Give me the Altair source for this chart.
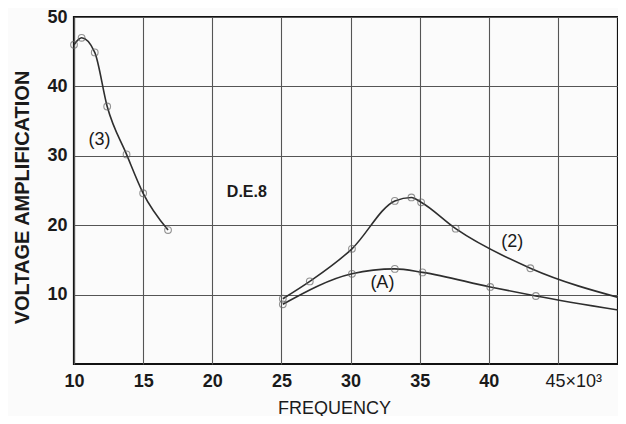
import altair as alt
import pandas as pd

# Curve (3)
c3_x = [10.0, 10.55, 11.5, 12.4, 13.8, 15.0, 16.8]
c3_y = [46.0, 47.0, 44.9, 37.1, 30.2, 24.6, 19.3]
# Curve (2)
c2_x = [25.1, 27.05, 30.1, 33.2, 34.4, 35.1, 37.6, 43.0]
c2_y = [9.4, 11.9, 16.6, 23.5, 24.0, 23.3, 19.5, 13.8]
c2_end_x = [49.9]
c2_end_y = [9.3]
# Curve (A)
ca_x = [25.1, 30.1, 33.2, 35.2, 40.1, 43.4]
ca_y = [8.6, 13.0, 13.7, 13.2, 11.1, 9.8]
ca_end_x = [49.9]
ca_end_y = [7.6]

# Annotations
ann_text = ["(3)", "D.E.8", "(2)", "(A)"]
ann_x = [11.85, 22.5, 41.7, 32.3]
ann_y = [32.3, 24.8, 17.6, 11.7]
ann_weight = ["normal", "bold", "normal", "normal"]

x_ticks = [10, 15, 20, 25, 30, 35, 40, 45]
y_ticks = [10, 20, 30, 40, 50]

rows = []
for s, xs_, ys_ in [("3", c3_x, c3_y), ("2", c2_x + c2_end_x, c2_y + c2_end_y),
                    ("A", ca_x + ca_end_x, ca_y + ca_end_y)]:
    for i, (a, b) in enumerate(zip(xs_, ys_)):
        rows.append({"series": s, "x": a, "y": b, "order": i})
lines_df = pd.DataFrame(rows)

pts = []
for s, xs_, ys_ in [("3", c3_x, c3_y), ("2", c2_x, c2_y), ("A", ca_x, ca_y)]:
    for a, b in zip(xs_, ys_):
        pts.append({"series": s, "x": a, "y": b})
pts_df = pd.DataFrame(pts)

ann_df = pd.DataFrame({"t": ann_text, "x": ann_x, "y": ann_y, "w": ann_weight})

W = 544
H = 347
xmax = 10 + W / (484 / 35)

xs = alt.Scale(domain=[10, xmax], nice=False, zero=False)
ys = alt.Scale(domain=[0, 50], nice=False)

last = "datum.value == 45"
x_axis = alt.Axis(values=x_ticks, ticks=False, domain=False, grid=True,
                  gridColor="#555555", gridWidth=1.1, gridOpacity=1,
                  labelFont="Liberation Sans", labelFontSize=18,
                  labelFontWeight={"condition": {"test": last, "value": "normal"}, "value": "bold"},
                  labelAlign={"condition": {"test": last, "value": "left"}, "value": "center"},
                  labelOffset={"condition": {"test": last, "value": -13}, "value": 0},
                  labelColor="#1a1a1a", labelPadding=8, labelFlush=False,
                  labelExpr="datum.value == 45 ? '45×10³' : datum.label",
                  title="FREQUENCY", titleFont="Liberation Sans", titleFontSize=18,
                  titleFontWeight="normal", titleColor="#1a1a1a",
                  titleX=260, titleY=44, titleAnchor="middle", titleBaseline="middle",
                  titleAlign="center")
y_axis = alt.Axis(values=y_ticks, ticks=False, domain=False, grid=True,
                  gridColor="#555555", gridWidth=1.1, gridOpacity=1,
                  labelFont="Liberation Sans", labelFontSize=18, labelFontWeight="bold",
                  labelColor="#1a1a1a", labelPadding=7, labelFlush=False,
                  title="VOLTAGE AMPLIFICATION", titleFont="Liberation Sans",
                  titleFontSize=20, titleFontWeight="bold", titleColor="#1a1a1a",
                  titleX=-52, titleY=180, titleAngle=270, titleAlign="center",
                  titleBaseline="middle")

base = alt.Chart(lines_df)

lines = base.mark_line(interpolate="monotone", color="#2e2e2e", strokeWidth=1.6,
                       clip=True).encode(
    x=alt.X("x:Q", scale=xs, axis=x_axis),
    y=alt.Y("y:Q", scale=ys, axis=y_axis),
    detail="series:N",
    order="order:Q",
)

points = alt.Chart(pts_df).mark_point(shape="circle", filled=False, size=45,
                                       color="#666666", strokeWidth=1.1).encode(
    x=alt.X("x:Q", scale=xs),
    y=alt.Y("y:Q", scale=ys),
)

texts_n = alt.Chart(ann_df[ann_df.w == "normal"]).mark_text(
    font="Liberation Sans", fontSize=18, color="#1a1a1a").encode(
    x=alt.X("x:Q", scale=xs), y=alt.Y("y:Q", scale=ys), text="t:N")
texts_b = alt.Chart(ann_df[ann_df.w == "bold"]).mark_text(
    font="Liberation Sans", fontSize=16, fontWeight="bold", color="#1a1a1a").encode(
    x=alt.X("x:Q", scale=xs), y=alt.Y("y:Q", scale=ys), text="t:N")

chart = alt.layer(lines, points, texts_n, texts_b).properties(
    width=W, height=H,
    autosize=alt.AutoSizeParams(type="none"),
    padding={"left": 66, "top": 9, "right": 0, "bottom": 52},
    background="#fbfbfb",
).configure_view(stroke="#111111", strokeWidth=2.2)

chart.save("out.html", embed_options={"renderer": "svg", "actions": False})
